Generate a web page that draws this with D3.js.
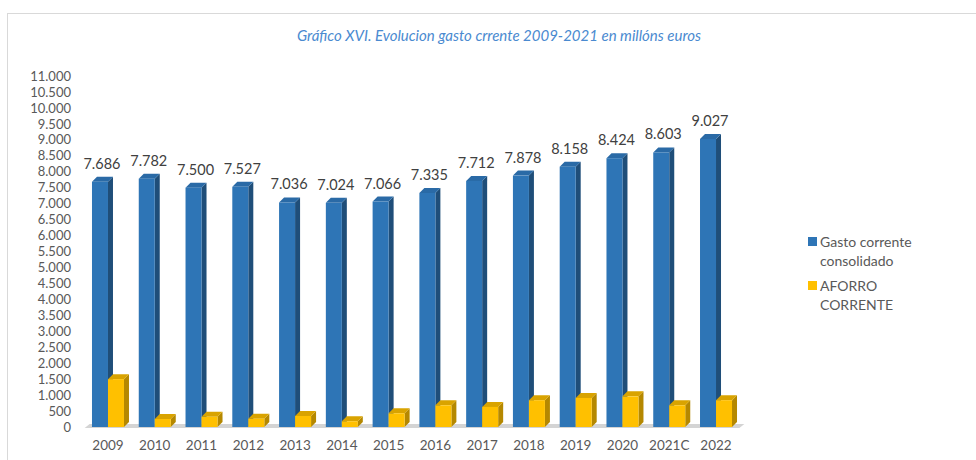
<!DOCTYPE html>
<html>
<head>
<meta charset="utf-8">
<script src="https://cdn.jsdelivr.net/npm/d3@7"></script>
<style>
  body { margin: 0; background: #fff; }
  text { font-family: Lato, "Open Sans", sans-serif; }
</style>
</head>
<body>
<div id="chart"></div>
<script>
// data
const anos = ["2009","2010","2011","2012","2013","2014","2015","2016","2017","2018","2019","2020","2021C","2022"];
const gastoCorrente = [7686,7782,7500,7527,7036,7024,7066,7335,7712,7878,8158,8424,8603,9027];
const aforroCorrente = [1500,250,320,260,345,180,430,680,630,840,910,960,680,840];
const yTicks = [0,500,1000,1500,2000,2500,3000,3500,4000,4500,5000,5500,6000,6500,7000,7500,8000,8500,9000,9500,10000,10500,11000];
const series = [
  {name: ["Gasto corrente", "consolidado"], values: gastoCorrente, front: "#2e75b6", side: "#1f4e79", top: "#2a6aa6"},
  {name: ["AFORRO", "CORRENTE"], values: aforroCorrente, front: "#ffc000", side: "#b58800", top: "#d9a300"}
];

const W = 976, H = 460;
const depth = 5;

const svg = d3.select("#chart").append("svg")
  .attr("width", W)
  .attr("height", H);

// chart frame
svg.append("rect")
  .attr("x", 7.5).attr("y", 13.5)
  .attr("width", 1000).attr("height", 500)
  .attr("fill", "#fff")
  .attr("stroke", "#d9d9d9");

svg.append("text")
  .attr("x", 499).attr("y", 41)
  .attr("text-anchor", "middle")
  .style("font-style", "italic")
  .style("font-size", "15px")
  .attr("fill", "#4a8ad0")
  .text("Gráfico XVI. Evolucion gasto crrente 2009-2021 en millóns euros");

var y = d3.scaleLinear().domain([0, 11000]).range([427, 76]);
var x = d3.scaleBand().domain(anos).range([84.6, 739.4]);
var xs = d3.scaleBand().domain([0, 1]).range([0, 32]);
const barW = xs.bandwidth();

// Y axis (labels only)
const fmt = d3.format(",");
svg.append("g")
  .attr("transform", "translate(71,0)")
  .call(d3.axisLeft(y).tickValues(yTicks).tickSize(0).tickPadding(0)
    .tickFormat(d => fmt(d).replace(/,/g, ".")))
  .call(g => g.select(".domain").remove())
  .selectAll("text")
    .style("font-size", "13px")
    .style("font-family", "Lato, sans-serif")
    .attr("fill", "#595959");

// X axis labels
svg.append("g")
  .attr("transform", "translate(0,427)")
  .call(d3.axisBottom(x).tickSize(0).tickPadding(13))
  .call(g => g.select(".domain").remove())
  .selectAll("text")
    .style("font-size", "13.5px")
    .style("font-family", "Lato, sans-serif")
    .attr("fill", "#595959");

// floor
const x0 = x.range()[0], x1 = x.range()[1];
svg.append("path")
  .attr("d", `M${x0},${y(0) + 1}L${x1},${y(0) + 1}L${x1 + depth},${y(0) - 3}L${x0 + depth},${y(0) - 3}Z`)
  .attr("fill", "#d4d4d4");

// 3D bars
series.forEach(function(s, si) {
  const g = svg.append("g");
  anos.forEach(function(a, i) {
    const left = x(a) + x.bandwidth() / 2 - 16 + xs(si);
    const right = left + barW;
    const top = y(s.values[i]);
    const base = y(0);
    // side
    g.append("path")
      .attr("d", `M${right},${top}L${right + depth},${top - depth}L${right + depth},${base - depth}L${right},${base}Z`)
      .attr("fill", s.side);
    // top
    g.append("path")
      .attr("d", `M${left},${top}L${left + depth},${top - depth}L${right + depth},${top - depth}L${right},${top}Z`)
      .attr("fill", s.top);
    // front
    g.append("rect")
      .attr("x", left).attr("y", top)
      .attr("width", barW).attr("height", base - top)
      .attr("fill", s.front);
  });
});

// value labels for gasto
svg.append("g").selectAll("text")
  .data(gastoCorrente)
  .enter()
  .append("text")
  .attr("x", (d, i) => x(anos[i]) + x.bandwidth() / 2 - 16 + xs(0) + barW / 2 + 2)
  .attr("y", d => y(d) - 13)
  .attr("text-anchor", "middle")
  .style("font-size", "14.5px")
  .attr("fill", "#404040")
  .text(d => fmt(d).replace(/,/g, "."));

// legend
const legend = svg.append("g").attr("transform", "translate(808,0)");
series.forEach(function(s, i) {
  const ly = 242 + i * 44;
  legend.append("rect")
    .attr("x", 0).attr("y", ly - 5)
    .attr("width", 9).attr("height", 9)
    .attr("fill", s.front);
  s.name.forEach(function(line, j) {
    legend.append("text")
      .attr("x", 12).attr("y", ly + 5 + j * 19)
      .style("font-size", "14px")
      .attr("fill", "#595959")
      .text(line);
  });
});
</script>
</body>
</html>
